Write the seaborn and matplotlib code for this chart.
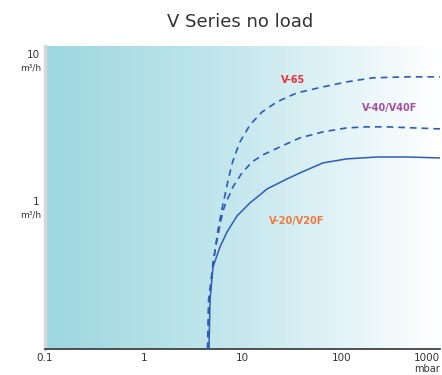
import numpy as np
import matplotlib
matplotlib.use("Agg")
import matplotlib.pyplot as plt
import seaborn as sns
from matplotlib.colors import LinearSegmentedColormap

# pressure (mbar) vs pumping speed (m3/h)
v20_p = [4.58, 4.69, 5.03, 5.92, 6.97, 8.80, 10.6, 11.9, 15.0, 17.7, 22.4, 28.2,
         38.2, 65.3, 114, 230, 463, 1000]
v20_s = [0.10, 0.215, 0.360, 0.492, 0.621, 0.797, 0.903, 0.977, 1.107, 1.215, 1.314, 1.420,
         1.56, 1.824, 1.942, 2.00, 2.00, 1.97]

v40_p = [4.48, 4.63, 5.03, 5.52, 6.06, 6.35, 6.81, 7.30, 8.01, 9.88, 12.5, 16.1,
         24.0, 38.2, 65.3, 114, 182, 291, 533, 1000]
v40_s = [0.10, 0.215, 0.389, 0.548, 0.749, 0.862, 0.99, 1.090, 1.254, 1.56, 1.853, 2.067,
         2.342, 2.695, 2.960, 3.150, 3.20, 3.20, 3.15, 3.10]

v65_p = [4.42, 4.53, 5.03, 5.27, 5.65, 6.20, 6.65, 7.13, 7.83, 8.40, 9.43, 11.9,
         15.8, 22.4, 35.6, 65.3, 114, 210, 463, 1000]
v65_s = [0.10, 0.215, 0.371, 0.469, 0.641, 0.890, 1.107, 1.377, 1.796, 2.067, 2.532, 3.30,
         4.04, 4.73, 5.44, 5.97, 6.46, 6.88, 6.98, 6.98]

x_ticks = [0.1, 1, 10, 100, 1000]
x_labels = ["0.1", "1", "10", "100", "1000"]
y_ticks = [1, 10]
y_labels = ["1", "10"]

sns.set_style("white")
plt.rcParams["font.family"] = ["DejaVu Sans"]

fig = plt.figure(figsize=(4.42, 3.75), dpi=100)
ax = fig.add_axes([45/442, 26/375, 395/442, 303/375])

# background gradient
cmap = LinearSegmentedColormap.from_list("bg", ["#9dd7e0", "#c6e8ee", "#ffffff"])
grad = np.linspace(0, 1, 256).reshape(1, -1)
ax.imshow(grad, cmap=cmap, aspect="auto", extent=[0, 1, 0, 1],
          transform=ax.transAxes, zorder=0)

line_c = "#2e5cb8"
sns.lineplot(x=v65_p, y=v65_s, ax=ax, color=line_c, lw=1.2, sort=False,
             linestyle=(0, (4, 3)), zorder=3)
sns.lineplot(x=v40_p, y=v40_s, ax=ax, color=line_c, lw=1.2, sort=False,
             linestyle=(0, (4, 3)), zorder=3)
sns.lineplot(x=v20_p, y=v20_s, ax=ax, color=line_c, lw=1.1, sort=False, zorder=3)

ax.set_xscale("log")
ax.set_yscale("log")
ax.set_xlim(0.1, 1000)
ax.set_ylim(0.1, 11.3)

ax.set_xticks(x_ticks)
ax.set_xticklabels(x_labels)
ax.set_yticks(y_ticks)
ax.set_yticklabels(y_labels)
ax.minorticks_off()
ax.tick_params(axis="both", direction="in", length=5, width=2, color="#777777",
               labelsize=7.5, labelcolor="#333333")
ax.tick_params(axis="x", pad=3)
ax.tick_params(axis="y", pad=4)
# last label sits at the right edge, keep it inside the figure
ax.get_xticklabels()[-1].set_horizontalalignment("right")

for v in y_ticks:
    ax.annotate("m\u00b3/h", xy=(0, v), xycoords=("axes fraction", "data"),
                xytext=(-3, -10), textcoords="offset points",
                ha="right", va="center", fontsize=6.5, color="#333333")

ax.text(1.0, -0.066, "mbar", transform=ax.transAxes, ha="right", va="center",
        fontsize=7, color="#333333", clip_on=False)

for s in ["top", "right"]:
    ax.spines[s].set_visible(False)
ax.spines["left"].set_color("#d8d8d8")
ax.spines["left"].set_linewidth(2.5)
ax.spines["bottom"].set_color("#333333")
ax.spines["bottom"].set_linewidth(1.2)

ax.set_xlabel("")
ax.set_ylabel("")

ax.text(32.4, 6.67, "V-65", color="#e8343c", fontsize=7, fontweight="bold",
        ha="center", va="center", zorder=4)
ax.text(312, 4.30, "V-40/V40F", color="#a44ea0", fontsize=7, fontweight="bold",
        ha="center", va="center", zorder=4)
ax.text(35.6, 0.738, "V-20/V20F", color="#f07a3c", fontsize=7, fontweight="bold",
        ha="center", va="center", zorder=4)

fig.text(240/442, 1 - 22/375, "V Series no load", ha="center", va="center",
         fontsize=13, color="#333333")

fig.savefig("out.png", dpi=100)
